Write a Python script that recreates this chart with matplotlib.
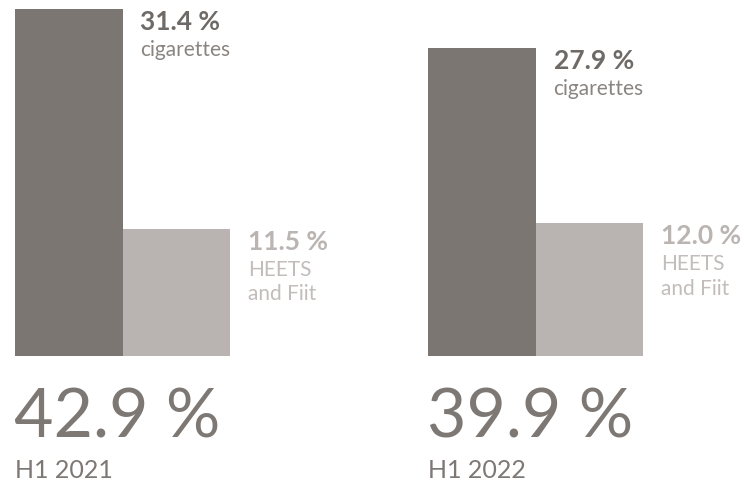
import matplotlib
matplotlib.use("Agg")
import matplotlib.pyplot as plt

# Data
periods = ['H1 2021', 'H1 2022']
totals = [42.9, 39.9]
cigarettes = [31.4, 27.9]
heets = [11.5, 12.0]
seg_names = ['cigarettes', 'HEETS\nand Fiit']

dark = '#7b7672'
light = '#b9b4b1'
dark_txt = '#6e6a67'
light_txt = '#bab5b2'

plt.rcParams['font.family'] = ['Lato', 'DejaVu Sans']

W, H = 749, 485
fig = plt.figure(figsize=(W / 100, H / 100), dpi=100)
ax = fig.add_axes([0, 0, 1, 1])

# pixel layout: baseline at 356.7 px from top, 11.04 px per percent point
base_px, k = 356.7, 11.04
ax.set_ylim((base_px - H) / k, base_px / k)
ax.set_xlim(0, W)
ax.axis('off')

group_x = [15, 428]
bw = 107.5

for i, gx in enumerate(group_x):
    ax.bar(gx, cigarettes[i], width=bw, align='edge', color=dark, linewidth=0)
    ax.bar(gx + bw, heets[i], width=bw, align='edge', color=light, linewidth=0)

    # labels next to each bar
    for x_right, val, name, c1, c2 in [
        (gx + bw, cigarettes[i], seg_names[0], dark_txt, '#8a8581'),
        (gx + 2 * bw, heets[i], seg_names[1], light_txt, '#c2bdba'),
    ]:
        ax.annotate(f'{val:.1f} %', xy=(x_right, val), xytext=(18 * 0.72, -20 * 0.72),
                    textcoords='offset points', va='baseline', ha='left',
                    fontsize=19, fontweight='bold', color=c1)
        for j, line in enumerate(name.split('\n')):
            ax.annotate(line, xy=(x_right, val),
                        xytext=(18 * 0.72, -(46 + 24.5 * j) * 0.72),
                        textcoords='offset points', va='baseline', ha='left',
                        fontsize=15, color=c2)

    # total and period underneath
    ax.annotate(f'{totals[i]:.1f} %', xy=(gx, 0), xytext=(-1, -(438 - base_px) * 0.72),
                textcoords='offset points', va='baseline', ha='left',
                fontsize=49, fontweight='normal', color='#7d7874')
    ax.annotate(periods[i], xy=(gx, 0), xytext=(0, -(478 - base_px) * 0.72),
                textcoords='offset points', va='baseline', ha='left',
                fontsize=18, fontweight='normal', color='#7d7874')

fig.savefig('out.png', dpi=100)
